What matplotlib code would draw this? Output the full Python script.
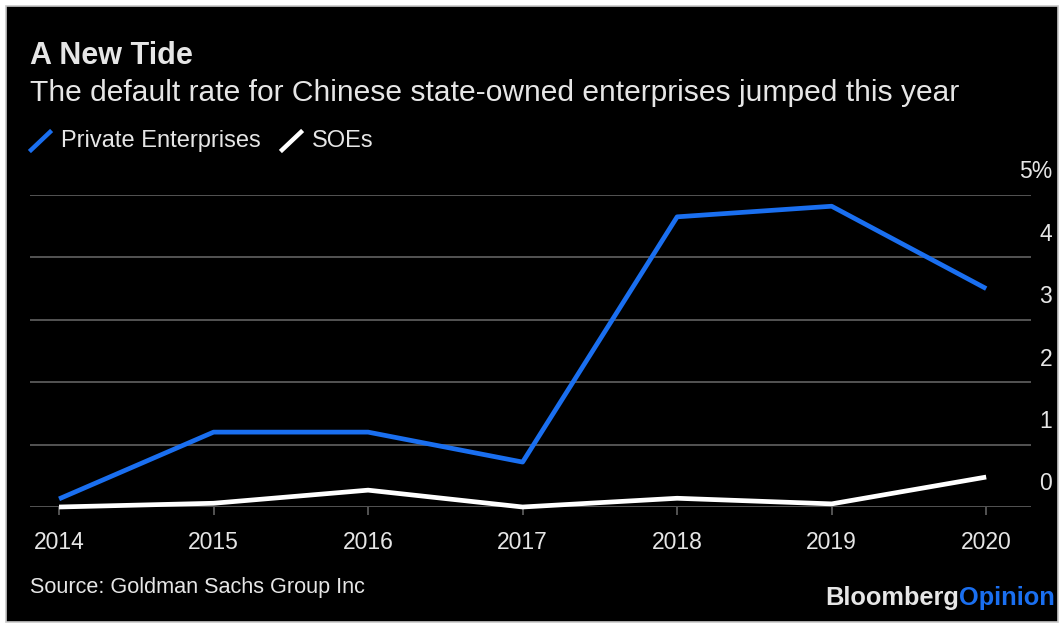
import matplotlib
matplotlib.use("Agg")
import matplotlib.pyplot as plt
import matplotlib.transforms as mtransforms
from matplotlib.patches import Rectangle
from matplotlib.lines import Line2D

years = [2014, 2015, 2016, 2017, 2018, 2019, 2020]
private = [0.13, 1.2, 1.2, 0.72, 4.65, 4.82, 3.5]
soes = [0.0, 0.06, 0.27, 0.0, 0.14, 0.05, 0.48]
yticks = [0, 1, 2, 3, 4, 5]
ylabels = ["0", "1", "2", "3", "4", "5%"]

BLUE = "#1a6ff0"
TXT = "#e6e6e6"
GRID = "#5a5a5a"

plt.rcParams['font.family'] = ['Liberation Sans', 'DejaVu Sans']

fig = plt.figure(figsize=(10.64, 6.32), dpi=100, facecolor="white")
W, H = 1064, 632

# black panel with light frame
fig.patches.append(Rectangle((6 / W, 1 - 622 / H), 1052 / W, 616 / H,
                             transform=fig.transFigure, facecolor="black",
                             edgecolor="#c8c8c8", linewidth=1.2, zorder=-5))

ax = fig.add_axes([30 / W, 1 - 507 / H, 1001 / W, 312 / H])
ax.set_zorder(2)
ax.set_facecolor("none")
ax.set_xlim(2013.812, 2020.29)
ax.set_ylim(0, 5)

for v in yticks:
    ax.axhline(v, color=GRID, linewidth=1.3, zorder=1)

ax.plot(years, private, color=BLUE, linewidth=3.4, clip_on=False, zorder=3,
        solid_capstyle="butt")
ax.plot(years, soes, color="white", linewidth=3.4, clip_on=False, zorder=3,
        solid_capstyle="butt")

for s in ax.spines.values():
    s.set_visible(False)
ax.set_yticks([])
ax.set_xticks(years)
ax.set_xticklabels([str(y) for y in years], fontsize=16.5, color=TXT)
ax.tick_params(axis="x", length=6, width=1.3, color=GRID, pad=11)

# y labels sit above each gridline on the right
tr = mtransforms.blended_transform_factory(ax.transAxes, ax.transData)
for v, lab in zip(yticks, ylabels):
    ax.text(1.021, v + 0.37, lab, transform=tr, ha="right", va="center",
            fontsize=16.5, color=TXT)

# titles
fig.text(30 / W, 1 - 56 / H, "A New Tide", fontsize=22, fontweight="bold",
         color=TXT, va="center")
fig.text(30 / W, 1 - 93 / H,
         "The default rate for Chinese state-owned enterprises jumped this year",
         fontsize=21.6, color=TXT, va="center")

# legend
for x0, col, lab in [(31, BLUE, "Private Enterprises"), (282, "white", "SOEs")]:
    fig.add_artist(Line2D([x0 / W, (x0 + 19) / W], [1 - 150 / H, 1 - 132 / H],
                          transform=fig.transFigure, color=col, linewidth=3.2))
    fig.text((x0 + 30) / W, 1 - 141 / H, lab, fontsize=17, color=TXT, va="center")

# footer
fig.text(30 / W, 1 - 588 / H, "Source: Goldman Sachs Group Inc", fontsize=15.6,
         color=TXT, va="center")
t1 = fig.text(825 / W, 1 - 598 / H, "Bloomberg", fontsize=18.3, fontweight="bold",
              color=TXT, va="center")
fig.canvas.draw()
bb = t1.get_window_extent()
fig.text(bb.x1 / W, 1 - 598 / H, "Opinion", fontsize=18.3, fontweight="bold",
         color=BLUE, va="center")

fig.savefig("out.png", dpi=100, facecolor="white")
